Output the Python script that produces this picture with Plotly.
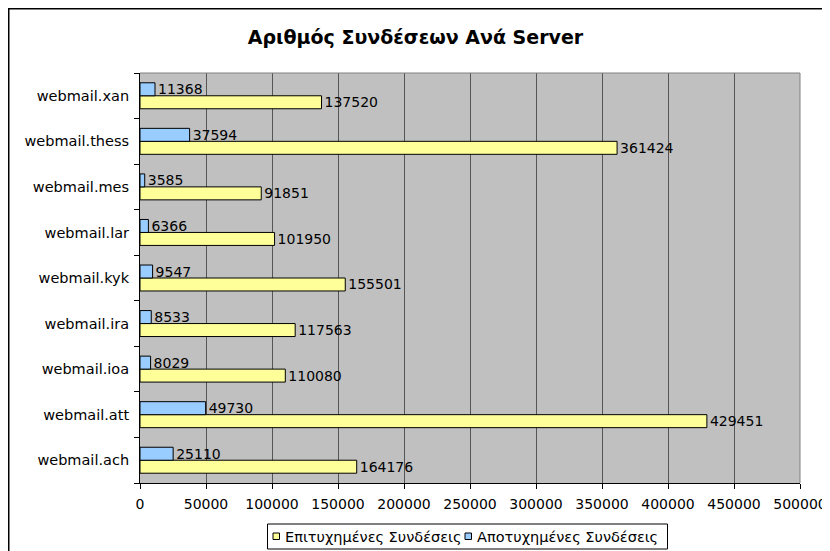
import plotly.graph_objects as go

# data (bottom to top, as in the chart)
servers = ['webmail.ach', 'webmail.att', 'webmail.ioa', 'webmail.ira', 'webmail.kyk',
           'webmail.lar', 'webmail.mes', 'webmail.thess', 'webmail.xan']
success = [164176, 429451, 110080, 117563, 155501, 101950, 91851, 361424, 137520]
failed = [25110, 49730, 8029, 8533, 9547, 6366, 3585, 37594, 11368]
x_ticks = [0, 50000, 100000, 150000, 200000, 250000, 300000, 350000, 400000, 450000, 500000]
names = ['Επιτυχημένες Συνδέσεις', 'Αποτυχημένες Συνδέσεις']
colors = ['#FFFF99', '#99CCFF']

FONT = 'DejaVu Sans, Verdana, sans-serif'

# the page body has an 8px margin, so the figure is a bit smaller than the window
W, H = 822, 543
PL, PT, PW, PH = 140, 73, 660, 410   # plot area in page pixels


def px(x):  # page x -> paper
    return (x - PL) / PW


def py(y):  # page y -> paper
    return (PT + PH - y) / PH


fig = go.Figure()
for vals, name, col in [(success, names[0], colors[0]), (failed, names[1], colors[1])]:
    fig.add_trace(go.Bar(
        y=servers, x=vals, orientation='h', name=name, showlegend=False,
        marker=dict(color=col, line=dict(color='black', width=1)),
        text=vals, textposition='outside', cliponaxis=False, constraintext='none',
        textfont=dict(color='black', size=14),
    ))

fig.update_layout(
    width=W, height=H,
    margin=dict(l=PL - 8, r=W - (PL - 8 + PW), t=PT - 8, b=H - (PT - 8 + PH), autoexpand=False),
    paper_bgcolor='white', plot_bgcolor='#C0C0C0',
    font=dict(family=FONT, size=14, color='black'),
    barmode='group', bargap=0.43, bargroupgap=0,
    title=dict(text='<b>Αριθμός Συνδέσεων Ανά Server</b>', x=(415.5 - 8) / W, xref='container',
               xanchor='center', y=1 - (37 - 8) / H, yanchor='middle',
               font=dict(size=19, family=FONT)),
    showlegend=False,
)
fig.update_xaxes(
    range=[0, 500000], tickvals=x_ticks, ticktext=[str(v) for v in x_ticks],
    showgrid=True, gridcolor='#555555', gridwidth=1,
    showline=True, linecolor='black', linewidth=1, automargin=False,
    ticks='outside', ticklen=5, tickcolor='black', zeroline=False,
    ticklabelstandoff=3, tickfont=dict(size=14),
)
fig.update_yaxes(
    showgrid=False, showline=True, linecolor='black', linewidth=1, automargin=False,
    ticks='outside', ticklen=5, tickcolor='black', tickson='boundaries',
    ticklabelstandoff=7, tickfont=dict(size=14.5),
)

# grey plot frame on top and right
fig.add_shape(type='line', xref='paper', yref='paper', x0=0, x1=1, y0=1, y1=1,
              line=dict(color='#808080', width=1))
fig.add_shape(type='line', xref='paper', yref='paper', x0=1, x1=1, y0=0, y1=1,
              line=dict(color='#808080', width=1))
# outer chart border (extends past the right and bottom edges)
fig.add_shape(type='rect', xref='paper', yref='paper', x0=px(8.75), x1=2, y0=-2, y1=py(8.75),
              line=dict(color='black', width=1.5), layer='below')

# legend box drawn by hand (Excel style: small squares, tight spacing)
fig.add_shape(type='rect', xref='paper', yref='paper', x0=px(267.5), x1=px(667.5),
              y0=py(549), y1=py(524), line=dict(color='black', width=1), fillcolor='white')
for name, col, sq_x, tx in zip(names, colors, [273, 465], [284, 475.5]):
    fig.add_shape(type='rect', xref='paper', yref='paper', x0=px(sq_x), x1=px(sq_x + 6.5),
                  y0=py(539.5), y1=py(533), line=dict(color='black', width=1), fillcolor=col)
    fig.add_annotation(xref='paper', yref='paper', x=px(tx), y=py(536.5), text=name,
                       showarrow=False, xanchor='left', yanchor='middle', borderpad=0,
                       font=dict(size=14.5, color='black'))

fig.write_html('out.html')
